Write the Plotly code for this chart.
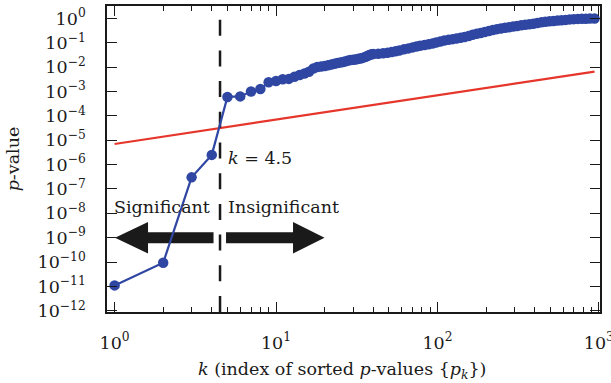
import math
import plotly.graph_objects as go

# ---- data ----
k_index = [1, 2, 3, 4, 5, 6, 7, 8, 9, 10, 11, 12, 13,
           14, 15, 16, 17, 18, 19, 20, 21, 22, 23, 24, 25, 26, 27, 28, 29,
           30, 31, 32, 33, 34, 35, 36, 37, 38, 39, 40,
           43, 46, 49, 52, 55, 58, 62, 66, 70, 74, 78, 83, 88, 93, 98, 104,
           110, 117, 124, 131, 139, 147, 156, 165, 175, 185, 196, 208, 220,
           233, 247, 262, 277, 294, 311, 330, 349, 370, 392, 415, 440, 466,
           494, 523, 554, 587, 622, 659, 698, 740, 784, 830, 880, 940]
p_sorted = [1.1e-11, 9.3e-11, 3.0e-7, 2.5e-6, 6.0e-4, 6.3e-4, 1.0e-3, 1.26e-3,
            2.4e-3, 2.7e-3, 3.2e-3, 3.3e-3, 4.0e-3,
            4.79e-3, 5.50e-3, 6.46e-3, 8.71e-3, 1.02e-2, 1.07e-2, 1.12e-2,
            1.20e-2, 1.29e-2, 1.38e-2, 1.48e-2, 1.55e-2, 1.62e-2, 1.74e-2,
            1.86e-2, 1.95e-2, 2.00e-2, 2.04e-2, 2.14e-2, 2.24e-2, 2.34e-2,
            2.51e-2, 2.69e-2, 2.95e-2, 3.16e-2, 3.39e-2, 3.47e-2,
            3.55e-2, 3.72e-2, 3.89e-2, 4.17e-2, 4.47e-2, 4.79e-2, 5.37e-2,
            5.89e-2, 6.46e-2, 7.08e-2, 7.59e-2, 8.13e-2, 8.71e-2, 9.33e-2,
            0.102, 0.112, 0.123, 0.132, 0.141, 0.151, 0.162, 0.174, 0.191,
            0.214, 0.234, 0.251, 0.275, 0.302, 0.331, 0.363, 0.389, 0.417,
            0.437, 0.468, 0.490, 0.525, 0.550, 0.575, 0.603, 0.646, 0.692,
            0.724, 0.759, 0.776, 0.813, 0.832, 0.871, 0.912, 0.933, 0.955,
            0.966, 0.977, 0.989, 0.999]

threshold_k = [1, 940]
threshold_p = [7.0e-6, 6.58e-3]

k_cut = 4.5

x_tickvals = [1, 10, 100, 1000]
x_ticktext = ["10<sup>0</sup>", "10<sup>1</sup>", "10<sup>2</sup>", "10<sup>3</sup>"]
x_minorvals = [2, 3, 4, 5, 6, 7, 8, 9, 20, 30, 40, 50, 60, 70, 80, 90,
               200, 300, 400, 500, 600, 700, 800, 900]
y_tickvals = [1, 1e-1, 1e-2, 1e-3, 1e-4, 1e-5, 1e-6, 1e-7, 1e-8, 1e-9,
              1e-10, 1e-11, 1e-12]
y_ticktext = ["10<sup>0</sup>", "10<sup>−1</sup>", "10<sup>−2</sup>",
              "10<sup>−3</sup>", "10<sup>−4</sup>", "10<sup>−5</sup>",
              "10<sup>−6</sup>", "10<sup>−7</sup>", "10<sup>−8</sup>",
              "10<sup>−9</sup>", "10<sup>−10</sup>", "10<sup>−11</sup>",
              "10<sup>−12</sup>"]

x_range = [-0.047, 3.007]
y_range = [-12.05, 0.51]

FONT = "DejaVu Serif"
FS = 17.5
BLUE = "#2f47a3"
RED = "#e6362b"
INK = "#1a1a1a"

fig = go.Figure()

fig.add_trace(go.Scatter(
    x=threshold_k, y=threshold_p, mode="lines",
    line=dict(color=RED, width=2.2), hoverinfo="skip", showlegend=False))

fig.add_trace(go.Scatter(
    x=[k_cut, k_cut], y=[10 ** y_range[0], 10 ** y_range[1]], mode="lines",
    line=dict(color=INK, width=2.5, dash="16px,14.7px"),
    hoverinfo="skip", showlegend=False))

fig.add_trace(go.Scatter(
    x=k_index, y=p_sorted, mode="lines+markers",
    line=dict(color=BLUE, width=2.2),
    marker=dict(color=BLUE, size=10.5),
    showlegend=False))

# arrows (pixel geometry anchored at the cut line, p = 1e-9)
left_arrow = "M -6.5,-5.5 L -72,-5.5 L -72,-15.7 L -105,0 L -72,15.7 L -72,5.5 L -6.5,5.5 Z"
right_arrow = "M 6,-5.5 L 73,-5.5 L 73,-15.7 L 104.5,0 L 73,15.7 L 73,5.5 L 6,5.5 Z"
for pth in (left_arrow, right_arrow):
    fig.add_shape(type="path", path=pth, xref="x", yref="y",
                  xsizemode="pixel", ysizemode="pixel",
                  xanchor=k_cut, yanchor=1e-9,
                  fillcolor=INK, line=dict(width=0), layer="below")

axis_common = dict(
    type="log", showline=True, linecolor=INK, linewidth=1.6, mirror="allticks",
    ticks="inside", ticklen=10, tickwidth=1.3, tickcolor=INK,
    showgrid=False, zeroline=False, automargin=False,
    ticklabeloverflow="allow",
    tickfont=dict(family=FONT, size=FS, color=INK),
)

fig.update_xaxes(**axis_common, range=x_range, tickmode="array",
                 tickvals=x_tickvals, ticktext=x_ticktext,
                 ticklabelstandoff=14,
                 minor=dict(ticks="inside", ticklen=5, tickwidth=1.1,
                            tickcolor=INK, tickvals=x_minorvals, showgrid=False))
fig.update_yaxes(**axis_common, range=y_range, tickmode="array",
                 tickvals=y_tickvals, ticktext=y_ticktext,
                 ticklabelstandoff=16)

txt = dict(family=FONT, size=FS, color=INK)
lx = math.log10(k_cut)
fig.add_annotation(x=lx, y=-8, xref="x", yref="y", text="Significant",
                   showarrow=False, xanchor="right", yanchor="middle",
                   xshift=-8, yshift=6, font=txt)
fig.add_annotation(x=lx, y=-8, xref="x", yref="y", text="Insignificant",
                   showarrow=False, xanchor="left", yanchor="middle",
                   xshift=6, yshift=6, font=txt)
fig.add_annotation(x=lx, y=-5.73, xref="x", yref="y", text="<i>k</i> = 4.5",
                   showarrow=False, xanchor="left", yanchor="middle",
                   xshift=6, font=txt)
fig.add_annotation(x=0.476, y=-0.19, xref="paper", yref="paper",
                   text="<i>k</i> (index of sorted <i>p</i>-values {<i>p</i><sub><i>k</i></sub>})",
                   showarrow=False, xanchor="center", yanchor="middle", font=txt)
fig.add_annotation(x=-0.19, y=0.5, xref="paper", yref="paper",
                   text="<i>p</i>-value", textangle=-90,
                   showarrow=False, xanchor="center", yanchor="middle", font=txt)

fig.update_layout(
    width=611, height=383,
    margin=dict(l=107, r=11, t=6, b=71, autoexpand=False),
    paper_bgcolor="white", plot_bgcolor="white",
    font=dict(family=FONT, size=FS, color=INK),
)

fig.write_html("out.html", config={"displayModeBar": False},
               post_script="document.body.style.margin='0';document.body.style.overflow='hidden';")
